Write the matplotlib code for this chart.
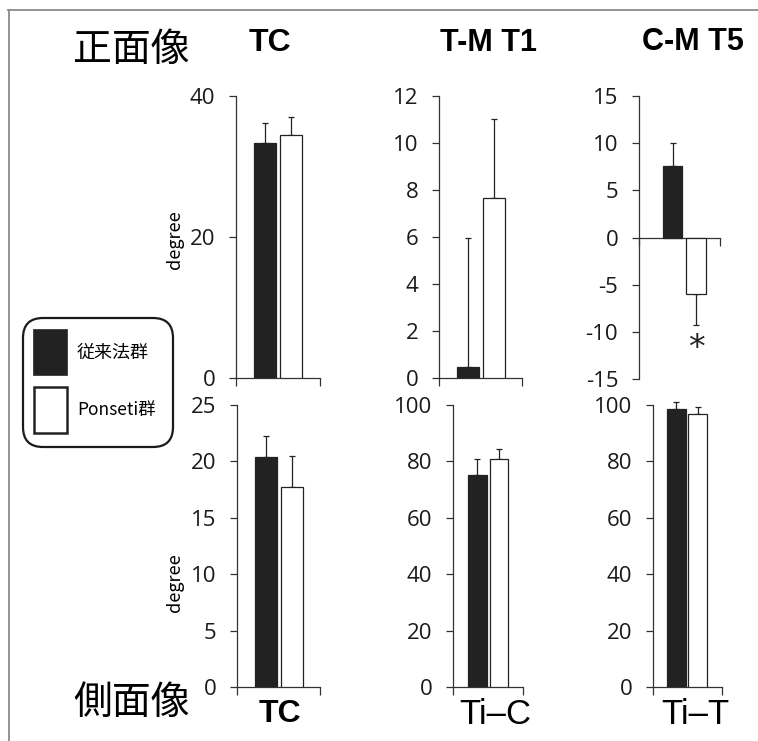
import numpy as np
import matplotlib
matplotlib.use('Agg')
import matplotlib.pyplot as plt
from matplotlib.patches import FancyBboxPatch, Rectangle

plt.rcParams['axes.unicode_minus'] = False
plt.rcParams['font.family'] = ['Open Sans', 'Noto Sans CJK JP', 'DejaVu Sans']

# 群
groups = ['従来法群', 'Ponseti群']
bar_colors = ['#222222', 'white']

# 正面像 (mean, SD)
front_tc_mean = [33.4, 34.5]
front_tc_sd = [2.8, 2.5]
front_tmt1_mean = [0.45, 7.66]
front_tmt1_sd = [5.5, 3.35]
front_cmt5_mean = [7.53, -5.95]
front_cmt5_sd = [2.54, 3.34]

# 側面像 (mean, SD)
lat_tc_mean = [20.35, 17.75]
lat_tc_sd = [1.9, 2.7]
lat_tic_mean = [75.1, 81.0]
lat_tic_sd = [5.7, 3.5]
lat_tit_mean = [98.5, 96.8]
lat_tit_sd = [2.5, 2.6]

W, H = 758, 741
fig = plt.figure(figsize=(W / 100, H / 100), dpi=100)
fig.patch.set_facecolor('white')

# 背景用 (ピクセル座標)
bg = fig.add_axes([0, 0, 1, 1], zorder=0)
bg.set_xlim(0, W)
bg.set_ylim(H, 0)
bg.axis('off')
bg.plot([8, W], [10, 10], color='#8a8a8a', lw=1.3)
bg.plot([9, 9], [10, H], color='#8a8a8a', lw=1.3)


def px_rect(x0, y0, x1, y1):
  return [x0 / W, 1 - y1 / H, (x1 - x0) / W, (y1 - y0) / H]


def draw_panel(rect, means, sds, ylim, yticks, xlim, width):
  ax = fig.add_axes(px_rect(*rect), zorder=2)
  ax.patch.set_alpha(0)
  x = np.arange(len(means))
  ax.bar(x, means, width=width, color=bar_colors, edgecolor='#222222',
         linewidth=0.9, zorder=3)
  for i in range(len(means)):
    if means[i] >= 0:
      err = [[0], [sds[i]]]
    else:
      err = [[sds[i]], [0]]
    ax.errorbar(x[i], means[i], yerr=err, fmt='none', ecolor='#222222',
                elinewidth=0.9, capsize=2.5, capthick=0.9, zorder=2,
                clip_on=False)
  ax.set_ylim(ylim)
  ax.set_xlim(xlim)
  ax.set_yticks(yticks)
  ax.set_xticks(xlim)
  ax.set_xticklabels([])
  for s in ('top', 'right'):
    ax.spines[s].set_visible(False)
  for s in ('left', 'bottom'):
    ax.spines[s].set_linewidth(0.9)
    ax.spines[s].set_color('#333333')
  if ylim[0] < 0:
    ax.spines['bottom'].set_position(('data', 0))
  ax.tick_params(axis='y', direction='out', length=5, width=0.9,
                 color='#333333', pad=10, labelsize=16, labelcolor='#1a1a1a')
  ax.tick_params(axis='x', direction='out', length=6, width=0.9,
                 color='#333333')
  return ax


draw_panel((236, 96, 320, 378), front_tc_mean, front_tc_sd,
           (0, 40), [0, 20, 40], (-1.12, 2.11), 0.85)
draw_panel((439, 96, 522, 378), front_tmt1_mean, front_tmt1_sd,
           (0, 12), np.arange(0, 13, 2), (-1.12, 2.07), 0.85)
ax_c = draw_panel((639, 96, 720, 379), front_cmt5_mean, front_cmt5_sd,
                  (-15, 15), np.arange(-15, 16, 5), (-1.43, 2.02), 0.83)
ax_c.text(1, -11.8, '*', ha='center', va='center', fontsize=24,
          family='DejaVu Sans', color='#222222')

draw_panel((237, 405, 320, 687), lat_tc_mean, lat_tc_sd,
           (0, 25), np.arange(0, 26, 5), (-1.12, 2.07), 0.85)
draw_panel((453, 405, 523, 687), lat_tic_mean, lat_tic_sd,
           (0, 100), np.arange(0, 101, 20), (-1.14, 2.12), 0.88)
draw_panel((653, 405, 722, 687), lat_tit_mean, lat_tit_sd,
           (0, 100), np.arange(0, 101, 20), (-1.09, 2.12), 0.88)

# 見出し
jp = ['Noto Sans CJK JP', 'DejaVu Sans']
bg.text(131, 50, '正面像', ha='center', va='center', fontsize=28, family=jp)
bg.text(132, 703, '側面像', ha='center', va='center', fontsize=28, family=jp)

bg.text(270, 43, 'TC', ha='center', va='center', fontsize=23,
        weight='bold', family='Liberation Sans')
bg.text(489, 43, 'T-M T1', ha='center', va='center', fontsize=22,
        weight='bold', family='Liberation Sans')
bg.text(693, 42, 'C-M T5', ha='center', va='center', fontsize=22,
        weight='bold', family='Liberation Sans')
bg.text(280, 714, 'TC', ha='center', va='center', fontsize=23,
        weight='bold', family='Liberation Sans')
bg.text(495, 714, 'Ti–C', ha='center', va='center', fontsize=25,
        family='Liberation Sans')
bg.text(695, 714, 'Ti–T', ha='center', va='center', fontsize=25,
        family='Liberation Sans')

bg.text(175, 240, 'degree', rotation=90, ha='center', va='center',
        fontsize=13, family=jp)
bg.text(175, 583, 'degree', rotation=90, ha='center', va='center',
        fontsize=13, family=jp)

# 凡例
bg.add_patch(FancyBboxPatch((23, 318), 150, 129,
                            boxstyle='round,pad=0,rounding_size=20',
                            facecolor='white', edgecolor='#1a1a1a', lw=1.6))
bg.add_patch(Rectangle((34, 330), 33, 45, facecolor=bar_colors[0],
                       edgecolor='#222222', lw=1.2))
bg.add_patch(Rectangle((34, 387), 33, 46, facecolor=bar_colors[1],
                       edgecolor='#222222', lw=1.8))
bg.text(77, 353, groups[0], ha='left', va='center', fontsize=13, family=jp)
bg.text(77, 410, groups[1], ha='left', va='center', fontsize=12.5, family=jp)

plt.savefig('out.png', dpi=100)
